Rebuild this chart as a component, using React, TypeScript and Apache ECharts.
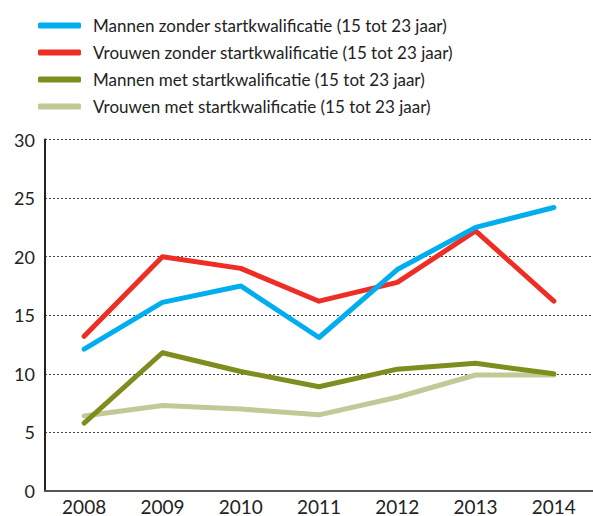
import React, { useEffect, useRef } from "react";
import * as echarts from "echarts";

const years = ["2008", "2009", "2010", "2011", "2012", "2013", "2014"];
const mannenZonder = [12.1, 16.1, 17.5, 13.1, 18.9, 22.5, 24.2];
const vrouwenZonder = [13.2, 20.0, 19.0, 16.2, 17.8, 22.2, 16.2];
const mannenMet = [5.8, 11.8, 10.2, 8.9, 10.4, 10.9, 10.0];
const vrouwenMet = [6.4, 7.3, 7.0, 6.5, 8.0, 9.9, 9.9];
const names = [
  "Mannen zonder startkwalificatie (15 tot 23 jaar)",
  "Vrouwen zonder startkwalificatie (15 tot 23 jaar)",
  "Mannen met startkwalificatie (15 tot 23 jaar)",
  "Vrouwen met startkwalificatie (15 tot 23 jaar)",
];
const colors = ["#00aeef", "#ee2e24", "#7f8c1e", "#c1ca96"];

const FONT = "Lato";

export default function App() {
  const ref = useRef<HTMLDivElement>(null);
  useEffect(() => {
    if (!ref.current) return;
    const chart = echarts.init(ref.current, undefined, { renderer: "svg" });
    const values = [mannenZonder, vrouwenZonder, mannenMet, vrouwenMet];
    const series = [3, 2, 1, 0].map((i) => ({
      name: names[i],
      type: "line",
      data: values[i],
      showSymbol: false,
      symbol: "none",
      lineStyle: { color: colors[i], width: 5, cap: "round", join: "round" },
      itemStyle: { color: colors[i] },
    }));
    chart.setOption({
      animation: false,
      backgroundColor: "#ffffff",
      textStyle: { fontFamily: FONT },
      legend: {
        data: names,
        orient: "vertical",
        left: 33,
        top: 12,
        itemGap: 10,
        itemWidth: 43,
        itemHeight: 6,
        icon: "roundRect",
        textStyle: { fontFamily: FONT, fontSize: 17, color: "#222", padding: [0, 0, 0, 7] },
      },
      grid: { left: 45, top: 139.5, width: 555, bottom: 23, containLabel: false },
      xAxis: {
        type: "category",
        data: years,
        boundaryGap: true,
        axisLine: { show: true, lineStyle: { color: "#555", width: 2 } },
        axisTick: { show: false },
        axisLabel: { fontFamily: FONT, fontSize: 19, color: "#222", margin: 6 },
      },
      yAxis: {
        type: "value",
        min: 0,
        max: 30,
        interval: 5,
        axisLine: { show: true, lineStyle: { color: "#222", width: 2 } },
        axisTick: { show: false },
        axisLabel: { fontFamily: FONT, fontSize: 18, color: "#222", margin: 10 },
        splitLine: { show: true, lineStyle: { color: "#444", width: 1, type: [2, 2] } },
      },
      series,
    });
    return () => chart.dispose();
  }, []);
  return (
    <div
      ref={ref}
      style={{ position: "fixed", left: 0, top: 0, width: 593, height: 516 }}
    />
  );
}
